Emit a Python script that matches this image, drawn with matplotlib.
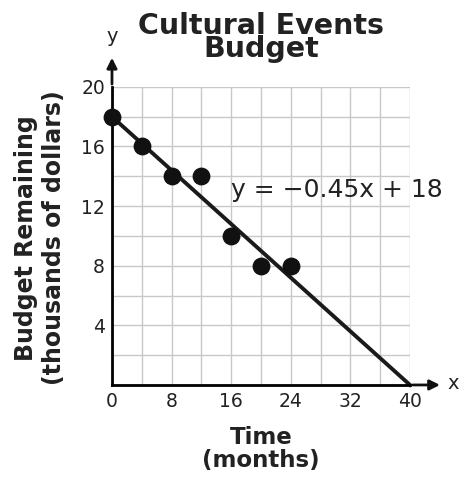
import matplotlib.pyplot as plt
import numpy as np

# data
months = [0, 4, 8, 12, 16, 20, 24]
budget = [18, 16, 14, 14, 10, 8, 8]
slope = -0.45
intercept = 18
x_ticks = [0, 8, 16, 24, 32, 40]
y_ticks = [4, 8, 12, 16, 20]

fig = plt.figure(figsize=(4.62, 4.8), dpi=100)
ax = fig.add_axes([0.2424, 0.198, 0.645, 0.621])

ax.set_xlim(0, 40)
ax.set_ylim(0, 20)
ax.set_xticks(np.arange(0, 41, 4), minor=True)
ax.set_yticks(np.arange(0, 21, 2), minor=True)
ax.set_xticks(x_ticks)
ax.set_yticks(y_ticks)
ax.grid(which='both', color='#c8c8c8', linewidth=1)
ax.tick_params(which='both', length=0, labelsize=13.5, pad=5,
               labelcolor='#222222')
ax.set_axisbelow(True)

for side in ['top', 'right']:
    ax.spines[side].set_visible(False)
for side in ['left', 'bottom']:
    ax.spines[side].set_linewidth(2)

xs = np.array([0, 40])
ax.plot(xs, slope * xs + intercept, color='#1a1a1a', linewidth=2.8, clip_on=False)
ax.scatter(months, budget, s=140, color='#111111', zorder=5, clip_on=False)

ax.text(16.0, 13.1, 'y = \u22120.45x + 18', fontsize=18, va='center', ha='left',
        color='#222222')

# axis arrows
ax.annotate('', xy=(1.11, 0), xytext=(1.0, 0), xycoords='axes fraction',
            arrowprops=dict(arrowstyle='-|>', color='#111111', lw=2, mutation_scale=15))
ax.annotate('', xy=(0, 1.107), xytext=(0, 1.0), xycoords='axes fraction',
            arrowprops=dict(arrowstyle='-|>', color='#111111', lw=2, mutation_scale=15))
ax.text(1.125, 0.005, 'x', transform=ax.transAxes, fontsize=14, va='center', ha='left',
        color='#222222')
ax.text(0.0, 1.17, 'y', transform=ax.transAxes, fontsize=14, va='center', ha='center',
        color='#222222')

fig.text(0.565, 0.922, 'Cultural Events\nBudget', fontsize=20.5, fontweight='bold',
         linespacing=0.8, ha='center', va='center', color='#222222')
fig.text(0.565, 0.0646, 'Time\n(months)', fontsize=16.5, fontweight='bold',
         linespacing=1.0, ha='center', va='center', color='#222222')
fig.text(0.0866, 0.504, 'Budget Remaining\n(thousands of dollars)', fontsize=17,
         fontweight='bold', linespacing=1.2, ha='center', va='center',
         rotation=90, color='#222222')

fig.savefig('out.png', dpi=100)
